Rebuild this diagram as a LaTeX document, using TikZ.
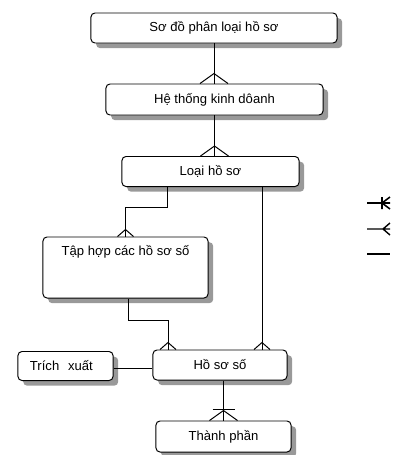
\documentclass[tikz,border=0pt]{standalone}
\usepackage{fontspec}
\setmainfont{Liberation Sans}
\usetikzlibrary{shadows}
\tikzset{
  crowbig/.pic={\draw (-14,0) -- (0,-10) -- (14,0);},
  crowsmall/.pic={\draw (-8,0) -- (0,-7) -- (8,0);},
  crowbar/.pic={\draw (-14,0) -- (0,-10) -- (14,0); \draw (-11,-11) -- (11,-11);},
}
\begin{document}
\begin{tikzpicture}[x=0.025cm,y=-0.025cm,line width=0.7pt,
    font=\fontsize{9.3}{11}\selectfont,
    box/.style={draw,rounded corners=0.1cm,fill=white,inner sep=0pt,
      drop shadow={shadow xshift=0.13cm,shadow yshift=-0.13cm,fill=black!40,opacity=1}}]
    \useasboundingbox (0,0) rectangle (402,455);
    \node[box,minimum width=6.15cm,minimum height=0.75cm] (sodo) at (214,28) {Sơ đồ phân loại hồ sơ};
    \node[box,minimum width=5.425cm,minimum height=0.775cm] (ht) at (214.5,99.5) {Hệ thống kinh dôanh};
    \node[box,minimum width=4.425cm,minimum height=0.75cm] (loai) at (210.5,171.5) {Loại hồ sơ};
    \node[box,minimum width=4.125cm,minimum height=1.525cm,
      label={[anchor=center,yshift=-0.375cm]north:Tập hợp các hồ sơ số}] (tap) at (125.5,267.5) {};
    \node[box,minimum width=2.375cm,minimum height=0.725cm,inner xsep=0.3cm,
      text width=1.775cm,align=left] (trich) at (65.5,366) {Trích~ xuất};
    \node[box,minimum width=3.35cm,minimum height=0.75cm] (hs) at (220,365) {Hồ sơ số};
    \node[box,minimum width=3.375cm,minimum height=0.775cm] (tp) at (223.5,436.5) {Thành phần};
    % connectors
    \draw (sodo.south) -- (sodo.south |- ht.north);
    \pic at (sodo.south |- ht.north) {crowbig};
    \draw (ht.south) -- (ht.south |- loai.north);
    \pic at (ht.south |- loai.north) {crowbig};
    \coordinate (k1) at (167,207);
    \draw (loai.south -| k1) -- (k1) -| (tap.north);
    \pic at (tap.north) {crowsmall};
    \coordinate (k2) at (262,0);
    \draw (loai.south -| k2) -- (hs.north -| k2);
    \pic at (hs.north -| k2) {crowsmall};
    \coordinate (k3) at (128,320);
    \coordinate (k4) at (168,0);
    \draw (tap.south -| k3) -- (k3) -| (hs.north -| k4);
    \pic at (hs.north -| k4) {crowsmall};
    \coordinate (k5) at (0,368);
    \draw (trich.east |- k5) -- (hs.west |- k5);
    \draw (tp.north |- hs.south) -- (tp.north);
    \pic at (tp.north) {crowbar};
    % legend
    \draw[line width=1.1pt] (367,203) -- (390,203) (382,197) -- (382,209) (390,197) -- (382,203) -- (390,209);
    \draw[line width=1pt] (367,229) -- (390,229) (390,223) -- (383,229) -- (390,235);
    \draw[line width=1pt] (367,254) -- (390,254);
\end{tikzpicture}
\end{document}
